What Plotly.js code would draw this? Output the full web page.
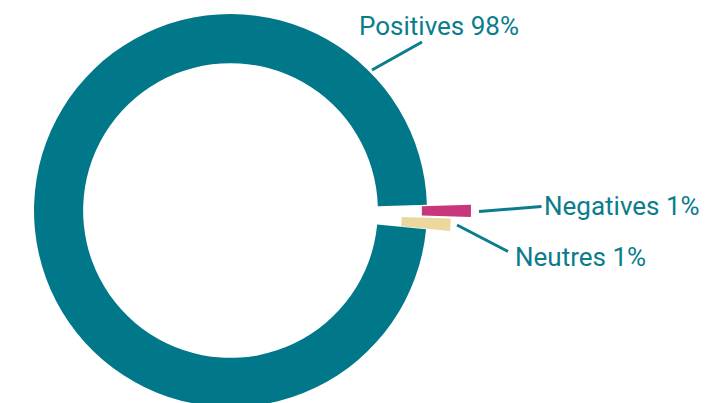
<!DOCTYPE html>
<html>
<head>
<meta charset="utf-8">
<script src="https://cdn.plot.ly/plotly-3.0.1.min.js"></script>
<style>
  html, body { margin: 0; padding: 0; width: 719px; height: 403px; overflow: hidden; background: #ffffff; }
  #chart { position: absolute; left: -20px; top: -30px; width: 759px; height: 481px; }
</style>
</head>
<body>
<div id="chart"></div>
<script>
// ---- data ----
const labels = ['Negatives', 'Neutres', 'Positives'];
const values = [1, 1, 98];

// ---- style ----
const colors = ['#C8367B', '#ECD89E', '#00788A'];
const pulls = [0.224, 0.122, 0];
const textColor = '#0A7C8C';
const W = 759, H = 481, OFFX = 20, OFFY = 30;

// screen pixel -> paper coords
function px(x) { return (x + OFFX) / W; }
function py(y) { return 1 - (y + OFFY) / H; }

const total = values.reduce((a, b) => a + b, 0);
const pct = values.map(v => Math.round(v / total * 100));

// label positions (screen px): text left/middle, leader line start/end
const labelPos = {
  'Positives': { tx: 357, ty: 25.5, line: [372, 70, 422, 42] },
  'Negatives': { tx: 542, ty: 206, line: [479, 211.5, 541.5, 206.5] },
  'Neutres':   { tx: 513, ty: 257, line: [457, 225, 508, 251.5] }
};

const annotations = [];
const shapes = [];
labels.forEach((lab, i) => {
  const p = labelPos[lab];
  annotations.push({
    xref: 'paper', yref: 'paper',
    x: px(p.tx), y: py(p.ty),
    xanchor: 'left', yanchor: 'middle',
    text: lab + ' ' + pct[i] + '%',
    showarrow: false,
    font: { family: 'Roboto, sans-serif', size: 26, color: textColor }
  });
  shapes.push({
    type: 'line', xref: 'paper', yref: 'paper',
    x0: px(p.line[0]), y0: py(p.line[1]),
    x1: px(p.line[2]), y1: py(p.line[3]),
    line: { color: textColor, width: 3 }
  });
});

const trace = {
  type: 'pie',
  labels: labels,
  values: values,
  hole: 0.75,
  sort: false,
  direction: 'clockwise',
  rotation: 88.3,
  pull: pulls,
  marker: { colors: colors, line: { width: 0 } },
  textinfo: 'none',
  hoverinfo: 'skip',
  showlegend: false,
  domain: { x: [0, 501 / 759], y: [0, 1] }
};

const layout = {
  width: W, height: H,
  margin: { l: 0, r: 0, t: 0, b: 0, pad: 0 },
  paper_bgcolor: '#ffffff',
  plot_bgcolor: '#ffffff',
  showlegend: false,
  annotations: annotations,
  shapes: shapes
};

Plotly.newPlot('chart', [trace], layout, { staticPlot: true, displayModeBar: false });
</script>
</body>
</html>
